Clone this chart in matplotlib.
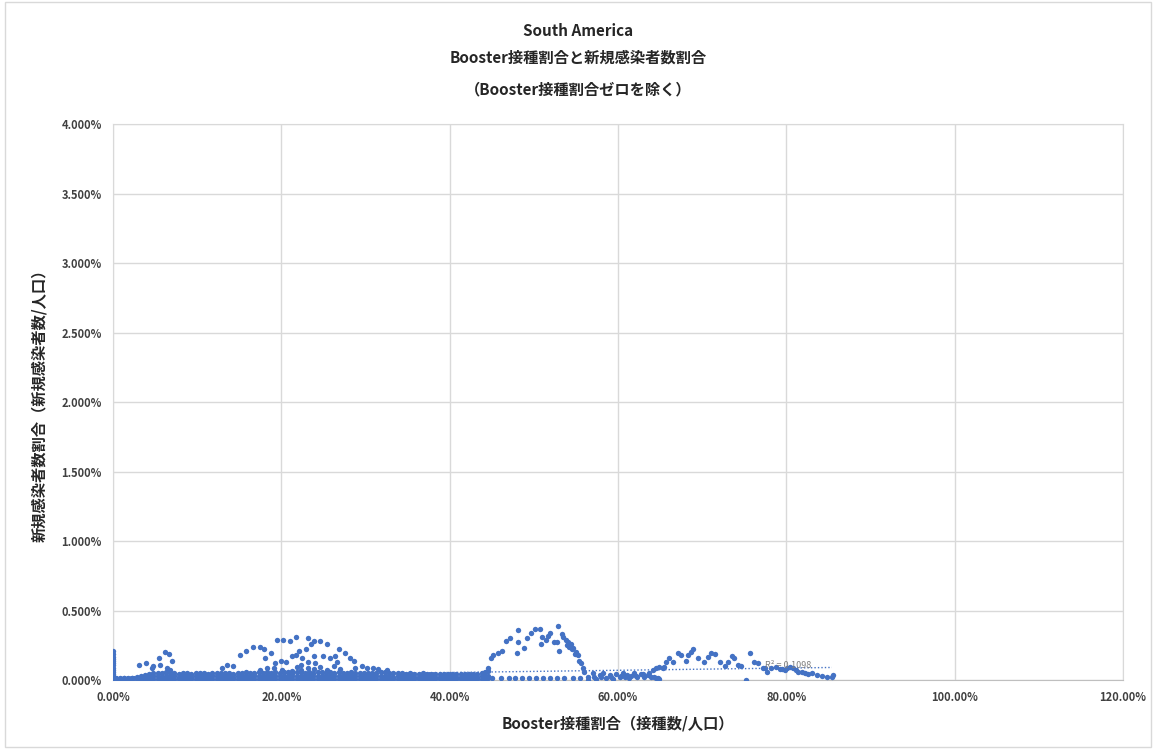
import matplotlib.pyplot as plt
from matplotlib.patches import Rectangle
from matplotlib.ticker import FuncFormatter, MultipleLocator

plt.rcParams['font.family'] = ['Noto Sans CJK JP', 'DejaVu Sans']

# all values in percent
# column of points at booster share ~0
col0_x = [0.05] * 14
col0_y = [0.0, 0.015, 0.03, 0.045, 0.06, 0.075, 0.09, 0.105, 0.12, 0.135,
          0.15, 0.165, 0.19, 0.21]

# dense low band 0-44.5%
band_x = [0.3, 0.8, 1.3, 1.8, 2.3, 2.8, 3.3, 3.8, 4.3, 4.8,
          5.3, 5.8, 6.3, 6.8, 7.3, 7.8, 8.3, 8.8, 9.3, 9.8,
          10.3, 10.8, 11.3, 11.8, 12.3, 12.8, 13.3, 13.8, 14.3, 14.8,
          15.3, 15.8, 16.3, 16.8, 17.3, 17.8, 18.3, 18.8, 19.3, 19.8,
          20.3, 20.8, 21.3, 21.8, 22.3, 22.8, 23.3, 23.8, 24.3, 24.8,
          25.3, 25.8, 26.3, 26.8, 27.3, 27.8, 28.3, 28.8, 29.3, 29.8,
          30.3, 30.8, 31.3, 31.8, 32.3, 32.8, 33.3, 33.8, 34.3, 34.8,
          35.3, 35.8, 36.3, 36.8, 37.3, 37.8, 38.3, 38.8, 39.3, 39.8,
          40.3, 40.8, 41.3, 41.8, 42.3, 42.8, 43.3, 43.8, 44.2, 44.5]
band_lo = [0.004, 0.005, 0.003, 0.006, 0.004, 0.005, 0.006, 0.004, 0.005, 0.006,
           0.005, 0.004, 0.006, 0.005, 0.004, 0.006, 0.005, 0.004, 0.006, 0.005,
           0.004, 0.006, 0.005, 0.004, 0.006, 0.005, 0.004, 0.006, 0.005, 0.004,
           0.006, 0.005, 0.004, 0.006, 0.005, 0.004, 0.006, 0.005, 0.004, 0.006,
           0.005, 0.004, 0.006, 0.005, 0.004, 0.006, 0.005, 0.004, 0.006, 0.005,
           0.004, 0.006, 0.005, 0.004, 0.006, 0.005, 0.004, 0.006, 0.005, 0.004,
           0.006, 0.005, 0.004, 0.006, 0.005, 0.004, 0.006, 0.005, 0.004, 0.006,
           0.005, 0.004, 0.006, 0.005, 0.004, 0.006, 0.005, 0.004, 0.006, 0.005,
           0.004, 0.006, 0.005, 0.004, 0.006, 0.005, 0.004, 0.006, 0.008, 0.012]
band_mid = [0.010, 0.008, 0.011, 0.009, 0.012, 0.012, 0.015, 0.018, 0.022, 0.026,
            0.028, 0.025, 0.029, 0.027, 0.026, 0.024, 0.028, 0.026, 0.025, 0.027,
            0.026, 0.028, 0.025, 0.027, 0.029, 0.026, 0.028, 0.027, 0.025, 0.029,
            0.028, 0.030, 0.027, 0.029, 0.031, 0.028, 0.030, 0.029, 0.031, 0.028,
            0.030, 0.032, 0.029, 0.031, 0.030, 0.028, 0.031, 0.029, 0.030, 0.032,
            0.029, 0.031, 0.028, 0.030, 0.029, 0.027, 0.030, 0.028, 0.026, 0.029,
            0.027, 0.026, 0.028, 0.027, 0.029, 0.026, 0.025, 0.027, 0.026, 0.024,
            0.026, 0.025, 0.024, 0.026, 0.023, 0.025, 0.024, 0.023, 0.025, 0.024,
            0.023, 0.024, 0.022, 0.024, 0.023, 0.025, 0.024, 0.026, 0.028, 0.032]
band_hi = [0.016, 0.013, 0.017, 0.014, 0.018, 0.022, 0.028, 0.034, 0.040, 0.048,
           0.053, 0.050, 0.056, 0.052, 0.048, 0.046, 0.050, 0.048, 0.045, 0.049,
           0.047, 0.051, 0.046, 0.050, 0.053, 0.048, 0.052, 0.049, 0.046, 0.054,
           0.052, 0.056, 0.051, 0.054, 0.058, 0.053, 0.056, 0.054, 0.058, 0.053,
           0.056, 0.060, 0.054, 0.058, 0.056, 0.053, 0.058, 0.054, 0.056, 0.060,
           0.054, 0.058, 0.053, 0.056, 0.054, 0.051, 0.056, 0.052, 0.048, 0.054,
           0.050, 0.048, 0.052, 0.056, 0.060, 0.054, 0.048, 0.050, 0.048, 0.045,
           0.048, 0.046, 0.044, 0.047, 0.043, 0.046, 0.044, 0.042, 0.045, 0.044,
           0.042, 0.044, 0.041, 0.044, 0.043, 0.046, 0.044, 0.048, 0.055, 0.065]

# scattered points above the band, 0-33%
early_x = [3.1, 3.9, 4.6, 4.8, 5.4, 5.6, 6.2, 6.7, 7.0, 6.4, 6.8,
           12.9, 13.5, 14.2, 15.1, 15.8, 16.6, 17.4, 17.9, 18.1, 18.8,
           19.5, 20.2, 21.0, 21.7, 23.2, 23.9, 24.6, 25.4, 26.9, 27.6,
           28.2, 28.6, 28.7, 29.6, 30.2, 30.9, 31.5, 32.6,
           19.9, 20.5, 21.3, 21.7, 22.1, 22.5, 22.9, 23.2, 23.2, 23.9,
           24.0, 24.6, 25.0, 25.8, 26.2, 26.6, 22.3, 21.9, 18.3, 19.1,
           17.5, 20.1, 21.3, 22.3, 23.9, 25.4, 27.0, 19.3, 23.5, 26.4]
early_y = [0.11, 0.12, 0.09, 0.10, 0.16, 0.11, 0.20, 0.19, 0.14, 0.09, 0.07,
           0.09, 0.11, 0.10, 0.18, 0.21, 0.24, 0.24, 0.22, 0.16, 0.195,
           0.29, 0.285, 0.28, 0.31, 0.30, 0.28, 0.28, 0.26, 0.22, 0.195,
           0.16, 0.14, 0.09, 0.10, 0.09, 0.09, 0.08, 0.07,
           0.14, 0.13, 0.17, 0.18, 0.21, 0.155, 0.22, 0.13, 0.09, 0.17,
           0.12, 0.095, 0.17, 0.16, 0.10, 0.13, 0.11, 0.095, 0.09, 0.09,
           0.07, 0.07, 0.066, 0.07, 0.076, 0.07, 0.076, 0.12, 0.26, 0.17]

# peak around 45-57%
peak_x = [44.6, 44.9, 45.1, 45.7, 46.2, 46.7, 47.2, 48.1, 48.1, 48.0,
          48.8, 49.2, 49.6, 50.1, 50.7, 50.8, 51.0, 51.4, 51.7, 51.9,
          52.4, 52.9, 53.0, 52.8, 53.3, 53.5, 53.8, 54.0, 54.2, 54.4,
          54.7, 55.0, 55.2, 55.4, 55.6, 55.8, 56.0, 56.4,
          45.0, 46.1, 47.0, 47.8, 48.6, 49.4, 50.3, 51.1, 51.9, 52.8,
          53.6, 54.6, 55.5, 54.5, 54.9, 53.9]
peak_y = [0.09, 0.16, 0.18, 0.195, 0.21, 0.28, 0.30, 0.36, 0.27, 0.195,
          0.23, 0.305, 0.34, 0.37, 0.37, 0.26, 0.31, 0.29, 0.32, 0.34,
          0.27, 0.39, 0.21, 0.27, 0.33, 0.31, 0.29, 0.27, 0.24, 0.26,
          0.23, 0.20, 0.18, 0.14, 0.12, 0.09, 0.06, 0.02,
          0.014, 0.015, 0.013, 0.014, 0.015, 0.013, 0.014, 0.015, 0.013, 0.014,
          0.015, 0.013, 0.014, 0.22, 0.19, 0.25]

# low cluster 56-65%
mid_x = [56.4, 57.0, 57.4, 57.8, 58.2, 58.6, 59.0, 59.4, 59.8, 60.2,
         60.6, 60.8, 61.1, 61.5, 61.9, 62.3, 62.7, 63.1, 63.5, 63.9,
         64.1, 64.5, 64.9, 65.3, 57.2, 58.0, 59.2, 60.4, 61.3, 62.1,
         63.0, 63.7, 64.3, 64.7]
mid_y = [0.0, 0.05, 0.005, 0.036, 0.05, 0.012, 0.036, 0.005, 0.043, 0.024,
         0.05, 0.019, 0.036, 0.029, 0.048, 0.019, 0.043, 0.024, 0.036, 0.019,
         0.07, 0.012, 0.005, 0.083, 0.025, 0.02, 0.022, 0.03, 0.012, 0.03,
         0.045, 0.05, 0.02, 0.015]

# later wave 64-86%
late_x = [64.5, 64.9, 65.5, 65.7, 66.1, 66.5, 67.1, 67.5, 68.1, 68.3,
          68.7, 68.9, 69.5, 70.2, 70.7, 71.1, 71.5, 72.1, 72.7, 73.1,
          73.5, 73.8, 74.2, 74.6, 75.2, 75.7, 76.2, 76.6, 77.2, 77.7,
          78.2, 78.8, 79.2, 79.8, 80.4, 80.8, 81.4, 81.8, 82.2, 82.6,
          83.0, 83.6, 84.2, 84.8, 85.4, 85.5, 77.4, 79.5, 80.1, 81.1]
late_y = [0.085, 0.095, 0.095, 0.13, 0.155, 0.13, 0.195, 0.18, 0.135, 0.18,
          0.20, 0.22, 0.16, 0.13, 0.165, 0.195, 0.185, 0.13, 0.10, 0.13,
          0.17, 0.155, 0.11, 0.10, 0.0, 0.195, 0.13, 0.12, 0.083, 0.06,
          0.083, 0.095, 0.076, 0.07, 0.095, 0.083, 0.06, 0.055, 0.048, 0.04,
          0.048, 0.036, 0.031, 0.024, 0.024, 0.036, 0.086, 0.08, 0.085, 0.07]

# linear trend line (percent)
trend_x = [0.0, 85.4]
trend_b = 0.022
trend_m = 0.0008
r2_text = 'R² = 0.1098'

blue = '#4472c4'

fig = plt.figure(figsize=(11.56, 7.49), dpi=100)
ax = fig.add_axes([0.0978, 0.0921, 0.8737, 0.7423])

for xs, ys in [(col0_x, col0_y), (band_x, band_lo), (band_x, band_mid),
               (band_x, band_hi), (early_x, early_y), (peak_x, peak_y),
               (mid_x, mid_y), (late_x, late_y)]:
    ax.scatter(xs, ys, s=15, color=blue, linewidths=0, zorder=3)

ty = [trend_b + trend_m * x for x in trend_x]
ax.plot(trend_x, ty, color=blue, lw=1.0, ls=(0, (1, 1.5)), zorder=4)
ax.text(77.5, 0.088, r2_text, fontsize=6.5, color='#808080', zorder=5)

ax.set_xlim(0, 120)
ax.set_ylim(0, 4.0)
ax.xaxis.set_major_locator(MultipleLocator(20))
ax.yaxis.set_major_locator(MultipleLocator(0.5))
ax.xaxis.set_major_formatter(FuncFormatter(lambda v, p: '%.2f%%' % v))
ax.yaxis.set_major_formatter(FuncFormatter(lambda v, p: '%.3f%%' % v))
ax.grid(True, color='#d9d9d9', lw=1.0)
ax.set_axisbelow(True)
for s in ['top', 'right', 'left']:
    ax.spines[s].set_color('#d9d9d9')
ax.spines['bottom'].set_color('#bfbfbf')
ax.tick_params(length=0, labelsize=8, labelcolor='#404040', pad=8)
for lab in ax.get_xticklabels() + ax.get_yticklabels():
    lab.set_fontweight('bold')

ax.set_xlabel('Booster接種割合（接種数/人口）', fontsize=11, fontweight='bold',
              color='#262626', labelpad=8)
ax.set_ylabel('新規感染者数割合（新規感染者数/人口）', fontsize=11, fontweight='bold',
              color='#262626', labelpad=10)

fig.text(0.5, 0.959, 'South America', ha='center', va='center',
         fontsize=11, fontweight='bold', color='#262626')
fig.text(0.5, 0.923, 'Booster接種割合と新規感染者数割合', ha='center', va='center',
         fontsize=11, fontweight='bold', color='#262626')
fig.text(0.5, 0.881, '（Booster接種割合ゼロを除く）', ha='center', va='center',
         fontsize=11, fontweight='bold', color='#262626')

fig.patches.append(Rectangle((0.004, 0.003), 0.992, 0.994, transform=fig.transFigure,
                             fill=False, edgecolor='#d9d9d9', lw=1))

fig.savefig('out.png', dpi=100)
